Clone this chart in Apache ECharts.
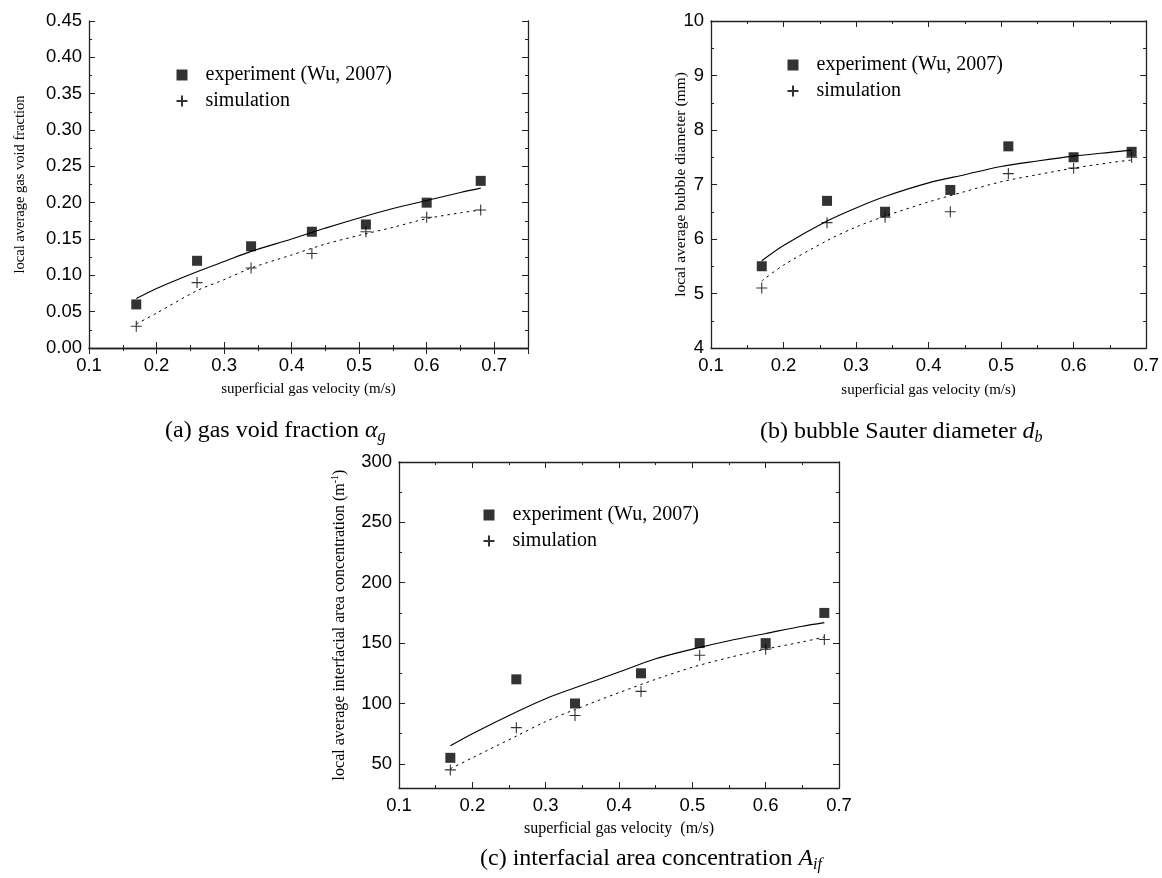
<!DOCTYPE html>
<html>
<head>
<meta charset="utf-8">
<script src="https://cdn.jsdelivr.net/npm/echarts@6/dist/echarts.min.js"></script>
<style>
html,body{margin:0;padding:0;background:#fff;}
#chart{width:1162px;height:878px;}
</style>
</head>
<body>
<div id="chart"></div>
<script>
// ---- data ----
const velocity = [0.17, 0.26, 0.34, 0.43, 0.51, 0.60, 0.68];
const fitVelocity = [0.17, 0.20, 0.26, 0.30, 0.34, 0.40, 0.45, 0.50, 0.55, 0.60, 0.65, 0.68];

const voidExp = [0.06, 0.12, 0.14, 0.16, 0.17, 0.20, 0.23];
const voidSim = [0.03, 0.09, 0.11, 0.13, 0.16, 0.18, 0.19];
const voidExpFit = [0.068, 0.082, 0.105, 0.119, 0.133, 0.150, 0.165, 0.179, 0.192, 0.203, 0.214, 0.220];
const voidSimFit = [0.033, 0.048, 0.079, 0.094, 0.110, 0.128, 0.143, 0.155, 0.166, 0.178, 0.186, 0.190];

const diamExp = [5.5, 6.7, 6.5, 6.9, 7.7, 7.5, 7.6];
const diamSim = [5.1, 6.3, 6.4, 6.5, 7.2, 7.3, 7.5];
const diamExpFit = [5.60, 5.88, 6.33, 6.57, 6.78, 7.03, 7.18, 7.33, 7.43, 7.52, 7.59, 7.63];
const diamSimFit = [5.23, 5.52, 5.97, 6.22, 6.42, 6.68, 6.87, 7.05, 7.18, 7.30, 7.40, 7.45];

const areaExp = [55, 120, 100, 125, 150, 150, 175];
const areaSim = [45, 80, 90, 110, 140, 145, 153];
const areaExpFit = [65, 75, 93, 104, 113, 126, 137, 145, 152, 158, 164, 167];
const areaSimFit = [46, 55, 73, 85, 95, 109, 120, 130, 138, 145, 151, 155];

const areaTicks = [50, 100, 150, 200, 250, 300];
const areaMinorTicks = [75, 125, 175, 225, 275];

const expName = 'experiment (Wu, 2007)';
const simName = 'simulation';

// ---- styling helpers ----
const SANS = '"Liberation Sans", Arial, sans-serif';
const SERIF = '"Liberation Serif", "Times New Roman", serif';
const AXC = '#222';
const LBL = 18.5;
const plusPath = 'path://M5,0L5,10M0,5L10,5';

function zip(xa, ya) { return xa.map((x, i) => [x, ya[i]]); }

function baseAxis(extra) {
  return Object.assign({
    type: 'value',
    axisLine: { show: true, lineStyle: { color: AXC, width: 1.3 } },
    axisTick: { show: true, inside: true, length: 6, lineStyle: { color: AXC, width: 1 } },
    minorTick: { show: true, splitNumber: 2, length: 3, lineStyle: { color: AXC, width: 1 } },
    splitLine: { show: false },
    minorSplitLine: { show: false },
    axisLabel: { show: false }
  }, extra);
}

function xAxes(gridIndex, min, max, nameText, nameSize, nameGap) {
  const bottom = baseAxis({
    gridIndex, position: 'bottom', min, max, interval: 0.1,
    name: nameText, nameLocation: 'middle', nameGap,
    nameTextStyle: { fontFamily: SERIF, fontSize: nameSize, color: '#000' },
    axisLabel: { show: true, fontFamily: SANS, fontSize: LBL, color: '#000', margin: 8,
      showMaxLabel: max === 0.7, formatter: v => v.toFixed(1) }
  });
  const top = baseAxis({ gridIndex, position: 'top', min, max, interval: 0.1 });
  return [bottom, top];
}

function yAxes(gridIndex, min, max, interval, digits, name, nameSize, nameGap) {
  const left = baseAxis({
    gridIndex, position: 'left', min, max, interval,
    name, nameLocation: 'middle', nameGap, nameRotate: 90, nameMoveOverlap: false,
    nameTextStyle: { fontFamily: SERIF, fontSize: nameSize, color: '#000' },
    axisLabel: { show: true, fontFamily: SANS, fontSize: LBL, color: '#000', margin: 7,
      formatter: v => v.toFixed(digits) }
  });
  const right = baseAxis({ gridIndex, position: 'right', min, max, interval });
  return [left, right];
}

const xAxis = [
  ...xAxes(0, 0.1, 0.75, 'superficial gas velocity (m/s)', 15, 34),
  ...xAxes(1, 0.1, 0.7, 'superficial gas velocity (m/s)', 15, 35),
  ...xAxes(2, 0.1, 0.7, 'superficial gas velocity  (m/s)', 16, 33)
];

const yAxis = [
  ...yAxes(0, 0, 0.45, 0.05, 2, 'local average gas void fraction', 14.5, 61),
  ...yAxes(1, 4, 10, 1, 0, 'local average bubble diameter (mm)', 15.5, 22),
  // panel (c): labels/ticks at 50..300 on an axis running from 30
  baseAxis({
    gridIndex: 2, position: 'left', min: 30, max: 300,
    name: '{n|local average interfacial area concentration (m}{sup|-1}{n|)}',
    nameLocation: 'middle', nameGap: 50, nameRotate: 90,
    nameTextStyle: { color: '#000', rich: {
      n: { fontFamily: SERIF, fontSize: 16, color: '#000', lineHeight: 19 },
      sup: { fontFamily: SERIF, fontSize: 10, color: '#000', verticalAlign: 'top', lineHeight: 10 }
    } },
    minorTick: { show: false },
    axisTick: { show: true, inside: true, length: 6, customValues: areaTicks, lineStyle: { color: AXC, width: 1 } },
    axisLabel: { show: true, fontFamily: SANS, fontSize: LBL, color: '#000', margin: 7, customValues: areaTicks }
  }),
  baseAxis({
    gridIndex: 2, position: 'right', min: 30, max: 300,
    minorTick: { show: false },
    axisTick: { show: true, inside: true, length: 6, customValues: areaTicks, lineStyle: { color: AXC, width: 1 } }
  }),
  baseAxis({
    gridIndex: 2, position: 'left', min: 30, max: 300,
    axisLine: { show: false }, minorTick: { show: false },
    axisTick: { show: true, inside: true, length: 3, customValues: areaMinorTicks, lineStyle: { color: AXC, width: 1 } }
  }),
  baseAxis({
    gridIndex: 2, position: 'right', min: 30, max: 300,
    axisLine: { show: false }, minorTick: { show: false },
    axisTick: { show: true, inside: true, length: 3, customValues: areaMinorTicks, lineStyle: { color: AXC, width: 1 } }
  })
];

const grid = [
  { left: 89, top: 21, width: 439, height: 327 },
  { left: 711, top: 21, width: 440, height: 327 },
  { left: 399, top: 462, width: 440, height: 326 }
];

function panelSeries(xi, yi, exp, sim, expFit, simFit) {
  return [
    { name: expName, type: 'scatter', xAxisIndex: xi, yAxisIndex: yi, data: zip(velocity, exp),
      symbol: 'rect', symbolSize: 10, itemStyle: { color: '#000' }, z: 5 },
    { name: simName, type: 'scatter', xAxisIndex: xi, yAxisIndex: yi, data: zip(velocity, sim),
      symbol: plusPath, symbolSize: 11,
      itemStyle: { color: 'none', borderColor: '#000', borderWidth: 1.1 }, z: 5 },
    { name: 'exp fit', type: 'line', xAxisIndex: xi, yAxisIndex: yi, data: zip(fitVelocity, expFit),
      showSymbol: false, smooth: 0.3, lineStyle: { color: '#000', width: 1.1 }, silent: true },
    { name: 'sim fit', type: 'line', xAxisIndex: xi, yAxisIndex: yi, data: zip(fitVelocity, simFit),
      showSymbol: false, smooth: 0.3, lineStyle: { color: '#000', width: 1, type: [2.5, 4] }, silent: true }
  ];
}

const series = [
  ...panelSeries(0, 0, voidExp, voidSim, voidExpFit, voidSimFit),
  ...panelSeries(2, 2, diamExp, diamSim, diamExpFit, diamSimFit),
  ...panelSeries(4, 4, areaExp, areaSim, areaExpFit, areaSimFit)
];

function legendAt(left, top) {
  return {
    left, top, orient: 'vertical', itemGap: 6, itemWidth: 11, itemHeight: 11,
    selectedMode: false,
    data: [{ name: expName, icon: 'rect' }, { name: simName }],
    textStyle: { fontFamily: SERIF, fontSize: 20, color: '#000', padding: [0, 0, 0, 13] }
  };
}

const legend = [legendAt(169, 60), legendAt(780, 50), legendAt(476, 500)];

function caption(x, y, label, sym, sub) {
  return {
    type: 'text', x, y,
    style: {
      text: '{n|' + label + '}{i|' + sym + '}{s|' + sub + '}',
      align: 'left', verticalAlign: 'middle', textAlign: 'left', textVerticalAlign: 'middle',
      fill: '#000',
      rich: {
        n: { fontFamily: SERIF, fontSize: 24, fill: '#000', lineHeight: 28 },
        i: { fontFamily: SERIF, fontSize: 24, fontStyle: 'italic', fill: '#000', lineHeight: 28 },
        s: { fontFamily: SERIF, fontSize: 16, fontStyle: 'italic', fill: '#000', lineHeight: 15, verticalAlign: 'bottom' }
      }
    }
  };
}

const graphic = [
  caption(165, 431, '(a) gas void fraction ', 'α', 'g'),
  caption(760, 432, '(b) bubble Sauter diameter ', 'd', 'b'),
  caption(480, 859, '(c) interfacial area concentration ', 'A', 'if')
];

const chart = echarts.init(document.getElementById('chart'), null, { renderer: 'canvas' });
chart.setOption({
  backgroundColor: '#fff',
  animation: false,
  grid, xAxis, yAxis, series, legend, graphic
});
</script>
</body>
</html>
